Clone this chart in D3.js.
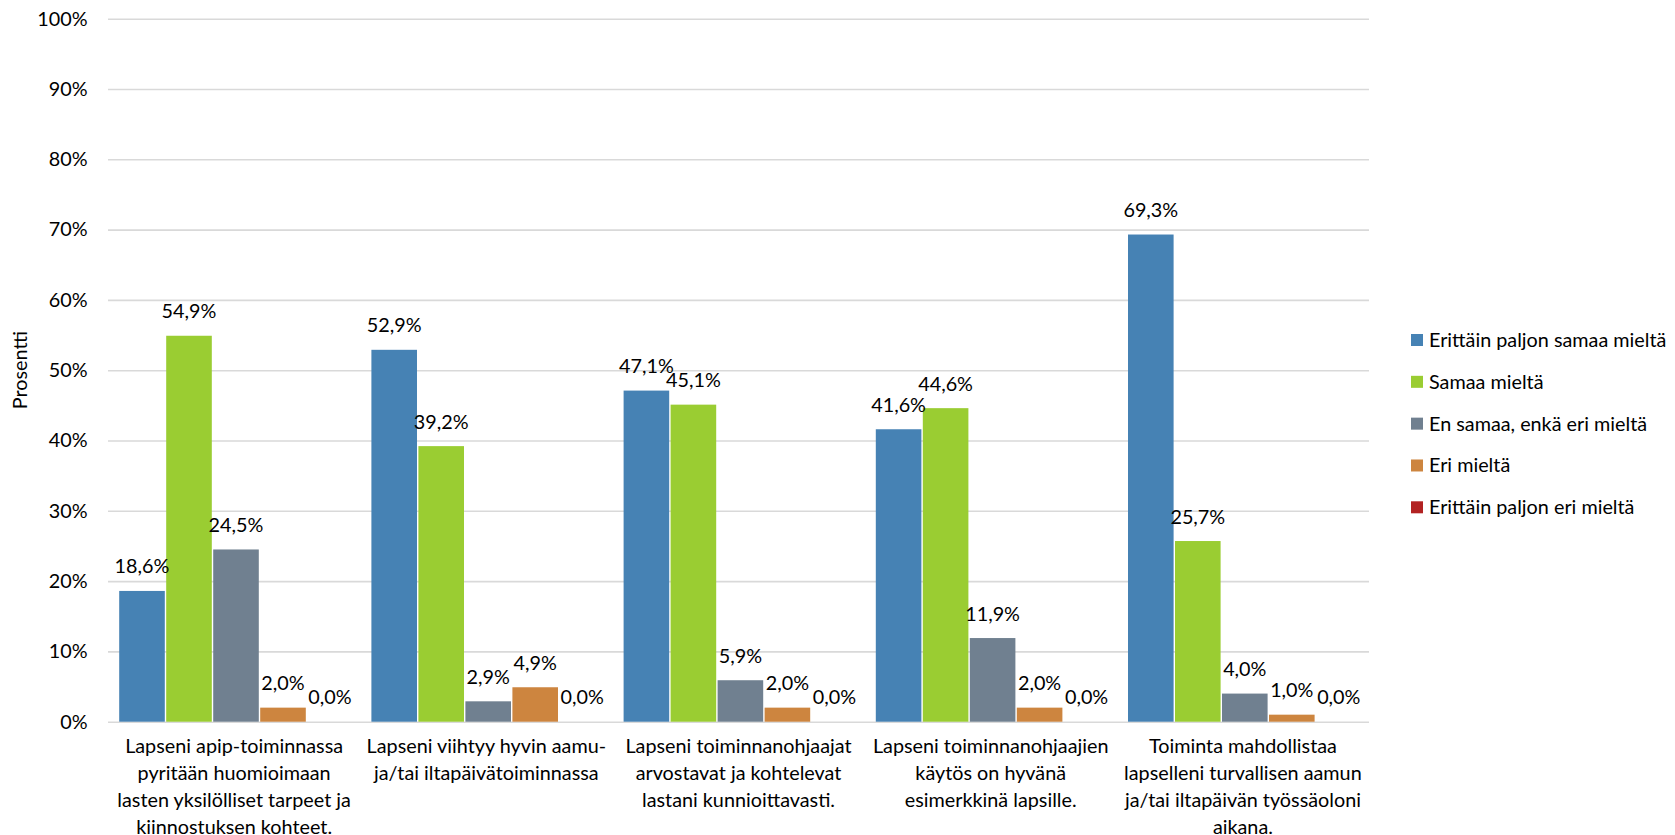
<!DOCTYPE html>
<html>
<head>
<meta charset="utf-8">
<script src="https://cdn.jsdelivr.net/npm/d3@7"></script>
<style>
  html, body { margin: 0; padding: 0; background: #fff; }
  svg { display: block; }
  text { font-family: Lato, "Open Sans", sans-serif; fill: #000; }
</style>
</head>
<body>
<svg id="chart" width="1675" height="835"></svg>
<script>
// ---- data ----
const categories = [
  "Lapseni apip-toiminnassa\npyritään huomioimaan\nlasten yksilölliset tarpeet ja\nkiinnostuksen kohteet.",
  "Lapseni viihtyy hyvin aamu-\nja/tai iltapäivätoiminnassa",
  "Lapseni toiminnanohjaajat\narvostavat ja kohtelevat\nlastani kunnioittavasti.",
  "Lapseni toiminnanohjaajien\nkäytös on hyvänä\nesimerkkinä lapsille.",
  "Toiminta mahdollistaa\nlapselleni turvallisen aamun\nja/tai iltapäivän työssäoloni\naikana."
];
const seriesNames = [
  "Erittäin paljon samaa mieltä",
  "Samaa mieltä",
  "En samaa, enkä eri mieltä",
  "Eri mieltä",
  "Erittäin paljon eri mieltä"
];
const seriesColors = ["#4682B4", "#9ACD32", "#708090", "#CD853F", "#B22222"];
const erittainSamaa = [18.6, 52.9, 47.1, 41.6, 69.3];
const samaa         = [54.9, 39.2, 45.1, 44.6, 25.7];
const enSamaaEnkaEri= [24.5, 2.9, 5.9, 11.9, 4.0];
const eri           = [2.0, 4.9, 2.0, 2.0, 1.0];
const erittainEri   = [0.0, 0.0, 0.0, 0.0, 0.0];
const seriesValues = [erittainSamaa, samaa, enSamaaEnkaEri, eri, erittainEri];
const yTicks = [0, 10, 20, 30, 40, 50, 60, 70, 80, 90, 100];
const yTitle = "Prosentti";

// ---- layout ----
const plotLeft = 108, plotRight = 1369, plotTop = 18.7, plotBottom = 721.7;
const fontSize = 19.8;
const svg = d3.select("#chart");

const fiLocale = d3.formatLocale({decimal: ",", thousands: "\u00a0", grouping: [3], currency: ["", "€"]});
const fmtLabel = v => fiLocale.format(".1f")(v) + "%";
const fmtTick = v => v + "%";

const x0 = d3.scaleBand().domain(d3.range(categories.length)).range([plotLeft, plotRight]).padding(0);
const groupOffset = 10.5, barStep = 47;
const x1 = d3.scaleBand().domain(d3.range(seriesNames.length))
  .range([groupOffset, groupOffset + barStep * seriesNames.length]).padding(0);
const y = d3.scaleLinear().domain([0, 100]).range([plotBottom, plotTop]);

// gridlines + y labels
const yAxis = d3.axisLeft(y).tickValues(yTicks).tickFormat(fmtTick)
  .tickSize(-(plotRight - plotLeft)).tickPadding(20.5);
const gy = svg.append("g").attr("transform", `translate(${plotLeft},0)`).call(yAxis);
gy.select(".domain").remove();
gy.selectAll(".tick line").attr("stroke", "#d9d9d9").attr("stroke-width", 1.6);
gy.selectAll(".tick text").attr("font-size", fontSize).attr("font-family", "Lato, sans-serif").attr("fill", "#000");

// y title
svg.append("text")
  .attr("transform", `translate(27,${(plotTop + plotBottom) / 2}) rotate(-90)`)
  .attr("text-anchor", "middle")
  .attr("font-size", fontSize)
  .text(yTitle);

// bars
const rows = [];
categories.forEach((c, ci) => seriesNames.forEach((s, si) => rows.push({ci, si, v: seriesValues[si][ci]})));
const groups = svg.append("g");
groups.selectAll("rect").data(rows).join("rect")
  .attr("x", d => x0(d.ci) + x1(d.si) + 0.7)
  .attr("width", x1.bandwidth() - 1.4)
  .attr("y", d => y(d.v))
  .attr("height", d => y(0) - y(d.v))
  .attr("fill", d => seriesColors[d.si]);

// data labels
groups.selectAll("text.lbl").data(rows).join("text")
  .attr("class", "lbl")
  .attr("x", d => x0(d.ci) + x1(d.si) + x1.bandwidth() / 2)
  .attr("y", d => y(d.v) - 17.5)
  .attr("text-anchor", "middle")
  .attr("font-size", fontSize)
  .text(d => fmtLabel(d.v));

// x axis labels
const xAxis = d3.axisBottom(x0).tickSize(0).tickFormat(i => categories[i]);
const gx = svg.append("g").attr("transform", `translate(0,${plotBottom})`).call(xAxis);
gx.select(".domain").remove();
gx.selectAll(".tick text").each(function(i) {
  const t = d3.select(this);
  const lines = categories[i].split("\n");
  t.text(null).attr("y", 31).attr("dy", null)
    .attr("font-size", fontSize).attr("font-family", "Lato, sans-serif").attr("fill", "#000");
  lines.forEach((ln, k) => t.append("tspan").attr("x", 0).attr("dy", k === 0 ? 0 : 27.2).text(ln));
});

// legend
const ly = d3.scalePoint().domain(d3.range(seriesNames.length)).range([340, 507.3]);
const lg = svg.append("g");
const items = lg.selectAll("g").data(seriesNames).join("g")
  .attr("transform", (d, i) => `translate(1411,${ly(i)})`);
items.append("rect").attr("x", 0).attr("y", -6).attr("width", 12).attr("height", 12)
  .attr("fill", (d, i) => seriesColors[i]);
items.append("text").attr("x", 18).attr("dy", "0.35em").attr("font-size", fontSize).text(d => d);
</script>
</body>
</html>
